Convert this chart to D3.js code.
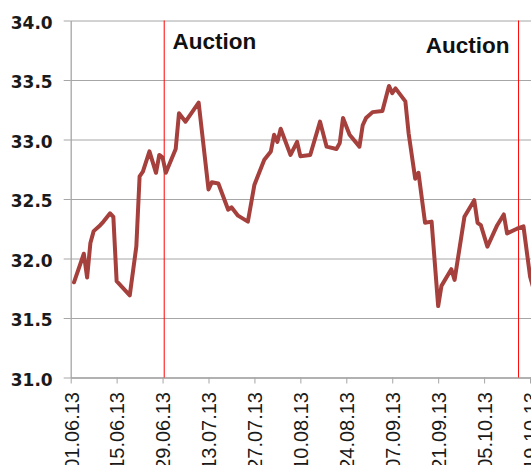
<!DOCTYPE html>
<html>
<head>
<meta charset="utf-8">
<script src="https://cdn.jsdelivr.net/npm/d3@7"></script>
<style>
  html, body { margin: 0; padding: 0; background: #fff; overflow: hidden; }
  svg { display: block; }
</style>
</head>
<body>
<svg id="chart" width="531" height="465"></svg>
<script>
// ---- data ----
const dates = [
  "02.06.13","05.06.13","06.06.13","07.06.13","08.06.13","10.06.13","11.06.13","13.06.13","14.06.13","15.06.13",
  "19.06.13","21.06.13","22.06.13","23.06.13","25.06.13","27.06.13","28.06.13","29.06.13","30.06.13",
  "03.07.13","04.07.13","06.07.13","10.07.13","13.07.13","14.07.13","16.07.13","19.07.13","20.07.13","22.07.13","25.07.13","27.07.13","30.07.13",
  "01.08.13","02.08.13","03.08.13","04.08.13","07.08.13","09.08.13","10.08.13","13.08.13","16.08.13","18.08.13","21.08.13","22.08.13","23.08.13","25.08.13","28.08.13","29.08.13","30.08.13",
  "01.09.13","04.09.13","06.09.13","07.09.13","08.09.13","11.09.13","12.09.13","14.09.13","15.09.13","17.09.13","19.09.13","21.09.13","22.09.13","25.09.13","26.09.13","29.09.13",
  "02.10.13","03.10.13","04.10.13","06.10.13","09.10.13","11.10.13","12.10.13","15.10.13","17.10.13","19.10.13","20.10.13"
];
const values = [
  31.80,32.04,31.84,32.13,32.23,32.28,32.31,32.38,32.35,31.81,
  31.69,32.10,32.69,32.73,32.90,32.72,32.87,32.85,32.72,
  32.92,33.22,33.15,33.31,32.58,32.64,32.63,32.41,32.43,32.36,32.31,32.62,32.83,
  32.90,33.04,32.98,33.09,32.87,32.98,32.86,32.87,33.15,32.94,32.92,32.97,33.18,33.04,32.94,33.12,33.18,
  33.23,33.24,33.45,33.39,33.43,33.32,33.05,32.67,32.72,32.30,32.31,31.60,31.77,31.91,31.82,32.35,
  32.49,32.30,32.28,32.10,32.28,32.37,32.21,32.25,32.27,31.85,31.75
];
const xTickLabels = ["01.06.13","15.06.13","29.06.13","13.07.13","27.07.13","10.08.13","24.08.13","07.09.13","21.09.13","05.10.13","19.10.13"];
const yTickValues = [31.0, 31.5, 32.0, 32.5, 33.0, 33.5, 34.0];
const auctionDates = ["2013-06-29T12:00","2013-10-15T12:00"];
const auctionLabel = "Auction";

// ---- setup ----
const parse = d3.utcParse("%d.%m.%y");
const parseISO = d3.utcParse("%Y-%m-%dT%H:%M");
const data = dates.map((d, i) => ({ date: parse(d), value: values[i] }));

const W = 531, H = 465;
const mLeft = 70.7, mTop = 20.5, mBottom = 377.5;
const pxPerDay = 3.281;

const svg = d3.select("#chart");

const x = d3.scaleUtc()
  .domain([parse("01.06.13"), parse("02.11.13")])
  .range([mLeft, mLeft + 154 * pxPerDay]);
const y = d3.scaleLinear().domain([31, 34]).range([mBottom, mTop]);

// gridlines
svg.append("g")
  .attr("transform", `translate(${mLeft},0)`)
  .call(d3.axisLeft(y).tickValues(yTickValues).tickSize(-(W - mLeft)).tickFormat(""))
  .call(g => g.select(".domain").remove())
  .call(g => g.selectAll("line").attr("stroke", "#a6a6a6").attr("stroke-width", 1));

// y axis
svg.append("g")
  .attr("transform", `translate(${mLeft},0)`)
  .call(d3.axisLeft(y).tickValues(yTickValues).tickSize(7).tickSizeOuter(0).tickPadding(11).tickFormat(d3.format(".1f")))
  .call(g => g.select(".domain").attr("stroke", "#a6a6a6").attr("stroke-width", 1.3))
  .call(g => g.selectAll("line").attr("stroke", "#a6a6a6"))
  .call(g => g.selectAll("text")
    .attr("dy", "0.45em")
    .attr("fill", "#1a1a1a")
    .style("font-family", "'DejaVu Sans', sans-serif")
    .style("font-weight", "bold")
    .style("font-size", "17px"));

// x axis
svg.append("g")
  .attr("transform", `translate(0,${mBottom})`)
  .call(d3.axisBottom(x).tickValues(xTickLabels.map(parse)).tickSize(6).tickSizeOuter(0).tickFormat(d3.utcFormat("%d.%m.%y")))
  .call(g => g.select(".domain").attr("stroke", "#a6a6a6").attr("stroke-width", 1.3))
  .call(g => g.selectAll("line").attr("stroke", "#a6a6a6"))
  .call(g => g.selectAll("text")
    .attr("transform", "rotate(-90)")
    .attr("text-anchor", "end")
    .attr("x", -14.5)
    .attr("y", 7.3)
    .attr("dy", 0)
    .attr("fill", "#1a1a1a")
    .style("font-family", "'Liberation Sans', Arial, sans-serif")
    .style("font-size", "20px"));

// auction lines
const aDates = auctionDates.map(parseISO);
svg.append("g").selectAll("line")
  .data(aDates)
  .join("line")
  .attr("x1", d => x(d)).attr("x2", d => x(d))
  .attr("y1", mTop).attr("y2", mBottom)
  .attr("stroke", "#ff0000").attr("stroke-width", 1);

// auction labels
svg.append("text")
  .attr("x", x(aDates[0]) + 8.4).attr("y", 49.3)
  .attr("text-anchor", "start")
  .style("font-family", "'Liberation Sans', Arial, sans-serif")
  .style("font-weight", "bold").style("font-size", "22.5px")
  .attr("fill", "#111")
  .text(auctionLabel);
svg.append("text")
  .attr("x", x(aDates[1]) - 9).attr("y", 53.3)
  .attr("text-anchor", "end")
  .style("font-family", "'Liberation Sans', Arial, sans-serif")
  .style("font-weight", "bold").style("font-size", "22.5px")
  .attr("fill", "#111")
  .text(auctionLabel);

// clip
svg.append("clipPath").attr("id", "plotclip")
  .append("rect").attr("x", mLeft).attr("y", 0).attr("width", W - mLeft).attr("height", mBottom);

// data line
const line = d3.line().x(d => x(d.date)).y(d => y(d.value));
svg.append("path")
  .datum(data)
  .attr("clip-path", "url(#plotclip)")
  .attr("d", line)
  .attr("fill", "none")
  .attr("stroke", "#a5403c")
  .attr("stroke-width", 4)
  .attr("stroke-linejoin", "round")
  .attr("stroke-linecap", "round");
</script>
</body>
</html>
